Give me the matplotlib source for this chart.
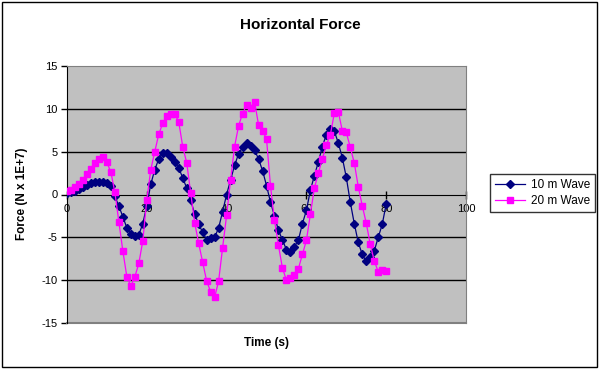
import numpy as np
import matplotlib
matplotlib.use('Agg')
import matplotlib.pyplot as plt
from matplotlib.patches import Rectangle

plt.rcParams['font.family'] = ['Liberation Sans', 'DejaVu Sans']
plt.rcParams['axes.unicode_minus'] = False

time_s = list(range(0, 81))

wave_10m = [0.2, 0.3, 0.45, 0.6, 0.85, 1.1, 1.3, 1.45, 1.5, 1.5,
            1.35, 0.95, -0.2, -1.35, -2.6, -3.9, -4.6, -4.85, -4.7, -3.4,
            -1.3, 1.2, 2.9, 4.15, 4.9, 4.9, 4.4, 3.85, 3.1, 1.95,
            0.75, -0.7, -2.25, -3.5, -4.4, -5.3, -5.1, -5.0, -3.9, -2.0,
            0.0, 1.7, 3.4, 4.75, 5.5, 6.0, 5.7, 5.2, 4.15, 2.8,
            1.05, -0.9, -2.5, -4.2, -5.3, -6.45, -6.7, -6.1, -5.3, -3.4,
            -1.85, 0.5, 2.2, 3.8, 5.6, 7.0, 7.7, 7.4, 6.0, 4.3,
            2.0, -0.9, -3.4, -5.6, -7.0, -7.8, -7.3, -6.6, -5.0, -3.5,
            -1.1]

wave_20m = [0.45, 0.55, 0.85, 1.25, 1.7, 2.35, 3.0, 3.65, 4.15, 4.35,
            3.75, 2.6, 0.25, -3.2, -6.6, -9.6, -10.7, -9.6, -8.05, -5.4,
            -0.6, 2.9, 5.0, 7.05, 8.3, 9.2, 9.35, 9.4, 8.5, 5.6,
            3.7, 0.2, -3.3, -5.7, -7.9, -10.1, -11.35, -12.0, -10.1, -6.2,
            -2.45, 1.7, 5.6, 8.0, 9.45, 10.45, 10.15, 10.85, 8.15, 7.45,
            6.5, 1.0, -3.0, -5.95, -8.6, -10.0, -9.7, -9.35, -8.65, -7.0,
            -5.35, -2.3, 0.75, 2.5, 4.15, 5.8, 6.95, 9.5, 9.65, 7.45,
            7.25, 5.5, 3.7, 0.9, -1.3, -3.35, -5.8, -7.75, -9.0, -8.85,
            -8.9]

x_ticks = [0, 20, 40, 60, 80, 100]
y_ticks = [-15, -10, -5, 0, 5, 10, 15]

fig = plt.figure(figsize=(6, 3.7), dpi=100)
fig.patches.append(Rectangle((2 / 600, 3 / 370), 595 / 600, 365 / 370,
                             transform=fig.transFigure, fill=False,
                             edgecolor='black', linewidth=1))

ax = fig.add_axes([67 / 600, 1 - 323 / 370, 399 / 600, 257 / 370])
ax.set_facecolor('#C0C0C0')

for y in [-10, -5, 5, 10]:
    ax.axhline(y, color='black', linewidth=1, zorder=1)

ax.plot(time_s, wave_10m, color='#000080', marker='D', markersize=3.8,
        linewidth=0.9, label='10 m Wave', zorder=3)
ax.plot(time_s, wave_20m, color='#FF00FF', marker='s', markersize=4.2,
        linewidth=0.9, label='20 m Wave', zorder=4)

ax.set_xlim(0, 100)
ax.set_ylim(-15, 15)
ax.set_xticks(x_ticks)
ax.set_yticks(y_ticks)
ax.tick_params(axis='y', direction='out', length=4, width=1, labelsize=8, pad=3)
ax.tick_params(axis='x', direction='inout', length=6, width=1, labelsize=8, pad=4)

for side in ['top', 'right']:
    ax.spines[side].set_color('#808080')
ax.spines['left'].set_color('black')
ax.spines['bottom'].set_position(('data', 0))
ax.spines['bottom'].set_color('black')
ax.spines['bottom'].set_zorder(2)

# gray border along the bottom of the plot area
ax.plot([0, 100], [-15, -15], color='#808080', linewidth=1.5, clip_on=False, zorder=2)

fig.text(0.5, 1 - 25 / 370, 'Horizontal Force', ha='center', va='center',
         fontsize=11, fontweight='bold')
fig.text(266 / 600, 1 - 343 / 370, 'Time (s)', ha='center', va='center',
         fontsize=8.5, fontweight='bold')
fig.text(22 / 600, 1 - 194 / 370, 'Force (N x 1E+7)', ha='center', va='center',
         rotation=90, fontsize=8.5, fontweight='bold')

leg = ax.legend(loc='center left', bbox_to_anchor=(490 / 600, 1 - 193 / 370),
                bbox_transform=fig.transFigure, fontsize=8.5, frameon=True,
                fancybox=False, edgecolor='black', handlelength=2.6,
                borderpad=0.4, labelspacing=0.4, handletextpad=0.5,
                borderaxespad=0)
leg.get_frame().set_linewidth(1)

fig.savefig('out.png', dpi=100)
